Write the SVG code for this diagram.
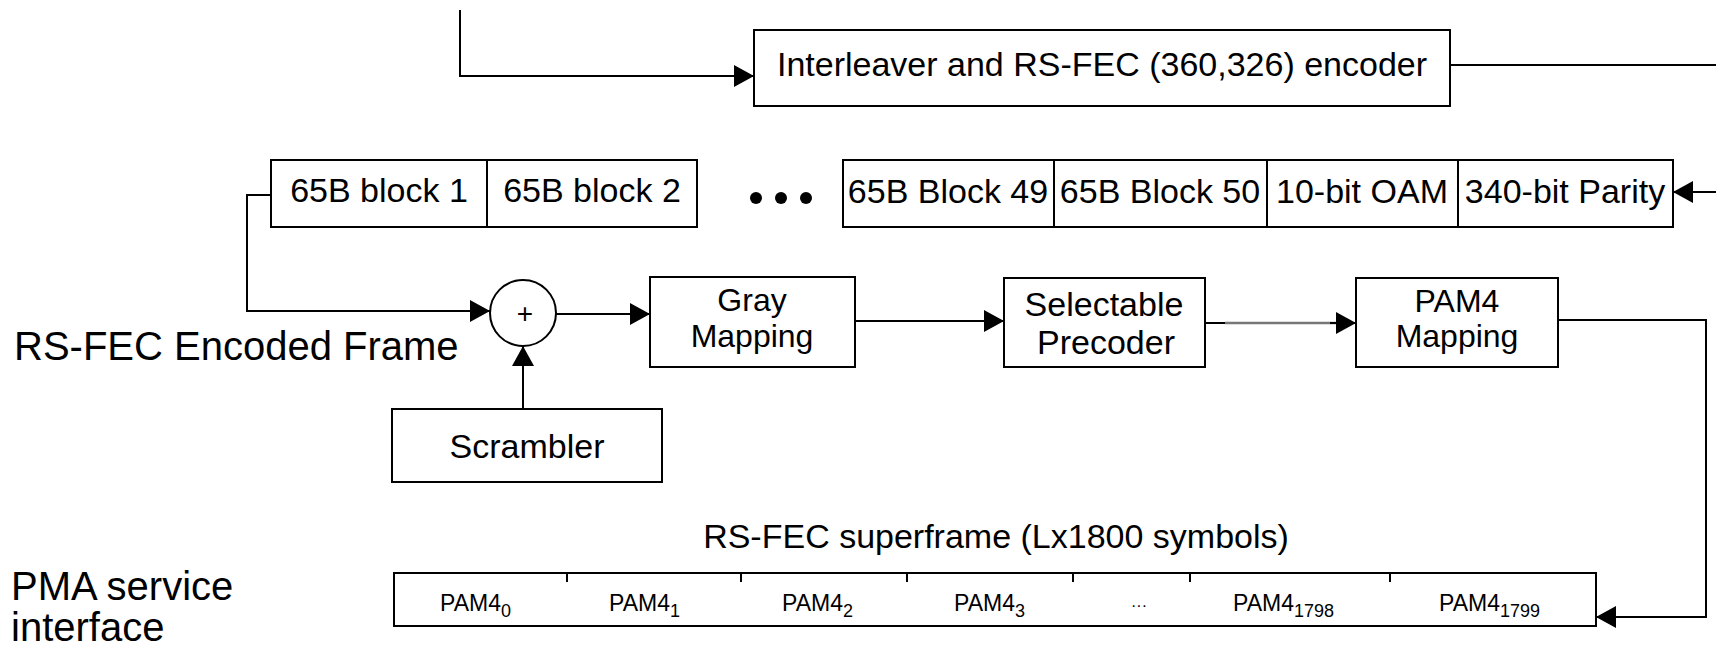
<svg xmlns="http://www.w3.org/2000/svg" width="1716" height="651" viewBox="0 0 1716 651">
<style>
text{font-family:"Liberation Sans",Arial,sans-serif;fill:#000}
.t{font-size:34px;text-anchor:middle}
.m{font-size:32px;text-anchor:middle}
.big{font-size:40px}
.p{font-size:23px}
.s{font-size:18px}
.box{fill:#fff;stroke:#000;stroke-width:2}
.ln{fill:none;stroke:#000;stroke-width:2}
</style>
<defs>
<marker id="ah" viewBox="0 0 20 22" markerWidth="20" markerHeight="22" refX="20" refY="11" orient="auto" markerUnits="userSpaceOnUse">
<path d="M0,0 L20,11 L0,22 z" fill="#000"/>
</marker>
</defs>

<g id="connectors">
<polyline class="ln" points="460,10 460,76 754,76" marker-end="url(#ah)"/>
<line class="ln" x1="1450" y1="65" x2="1716" y2="65"/>
<line class="ln" x1="1716" y1="192" x2="1673" y2="192" marker-end="url(#ah)"/>
<polyline class="ln" points="271,195 247,195 247,311 490,311" marker-end="url(#ah)"/>
<line class="ln" x1="523" y1="409" x2="523" y2="346" marker-end="url(#ah)"/>
<line class="ln" x1="556" y1="314" x2="650" y2="314" marker-end="url(#ah)"/>
<line class="ln" x1="855" y1="321" x2="1004" y2="321" marker-end="url(#ah)"/>
<line class="ln" x1="1205" y1="323" x2="1225" y2="323"/>
<line x1="1225" y1="323" x2="1340" y2="323" stroke="#777" stroke-width="2.5"/>
<line class="ln" x1="1330" y1="323" x2="1356" y2="323" marker-end="url(#ah)"/>
<polyline class="ln" points="1558,320 1706,320 1706,617 1596,617" marker-end="url(#ah)"/>
</g>

<g id="interleaver">
<rect class="box" x="754" y="30" width="696" height="76"/>
<text class="t" x="1102" y="76">Interleaver and RS-FEC (360,326) encoder</text>
</g>

<g id="frame-start">
<rect class="box" x="271" y="160" width="426" height="67"/>
<line class="ln" x1="487" y1="160" x2="487" y2="227"/>
<text class="t" x="379" y="202">65B block 1</text>
<text class="t" x="592" y="202">65B block 2</text>
</g>

<g id="dots">
<circle cx="756" cy="198" r="6"/>
<circle cx="781" cy="198" r="6"/>
<circle cx="806" cy="198" r="6"/>
</g>

<g id="frame-end">
<rect class="box" x="843" y="160" width="830" height="67"/>
<line class="ln" x1="1054" y1="160" x2="1054" y2="227"/>
<line class="ln" x1="1267" y1="160" x2="1267" y2="227"/>
<line class="ln" x1="1458" y1="160" x2="1458" y2="227"/>
<text class="t" x="948" y="203">65B Block 49</text>
<text class="t" x="1160" y="203">65B Block 50</text>
<text class="t" x="1362" y="203">10-bit OAM</text>
<text class="t" x="1565" y="203">340-bit Parity</text>
</g>

<g id="label-frame">
<text class="big" x="14" y="360">RS-FEC Encoded Frame</text>
</g>

<g id="adder">
<circle cx="523" cy="313" r="33" fill="#fff" stroke="#000" stroke-width="2"/>
<text x="525" y="323" style="font-size:28px;text-anchor:middle">+</text>
</g>

<g id="scrambler">
<rect class="box" x="392" y="409" width="270" height="73"/>
<text class="t" x="527" y="458">Scrambler</text>
</g>

<g id="gray">
<rect class="box" x="650" y="277" width="205" height="90"/>
<text class="m" x="752" y="311">Gray</text>
<text class="m" x="752" y="347">Mapping</text>
</g>

<g id="precoder">
<rect class="box" x="1004" y="278" width="201" height="89"/>
<text class="t" x="1104" y="316">Selectable</text>
<text class="t" x="1106" y="354">Precoder</text>
</g>

<g id="pam4map">
<rect class="box" x="1356" y="278" width="202" height="89"/>
<text class="m" x="1457" y="312">PAM4</text>
<text class="m" x="1457" y="347">Mapping</text>
</g>

<g id="superframe-title">
<text class="t" x="996" y="548">RS-FEC superframe (Lx1800 symbols)</text>
</g>

<g id="pma-label">
<text class="big" x="11" y="600">PMA service</text>
<text class="big" x="11" y="641">interface</text>
</g>

<g id="superframe">
<rect class="box" x="394" y="573" width="1202" height="53"/>
<g class="ln">
<line x1="567" y1="573" x2="567" y2="582"/>
<line x1="741" y1="573" x2="741" y2="582"/>
<line x1="907" y1="573" x2="907" y2="582"/>
<line x1="1073" y1="573" x2="1073" y2="582"/>
<line x1="1190" y1="573" x2="1190" y2="582"/>
<line x1="1390" y1="573" x2="1390" y2="582"/>
</g>
<text class="p" x="440" y="611">PAM4<tspan class="s" dy="6">0</tspan></text>
<text class="p" x="609" y="611">PAM4<tspan class="s" dy="6">1</tspan></text>
<text class="p" x="782" y="611">PAM4<tspan class="s" dy="6">2</tspan></text>
<text class="p" x="954" y="611">PAM4<tspan class="s" dy="6">3</tspan></text>
<text class="p" x="1131" y="611" style="font-size:16px">···</text>
<text class="p" x="1233" y="611">PAM4<tspan class="s" dy="6">1798</tspan></text>
<text class="p" x="1439" y="611">PAM4<tspan class="s" dy="6">1799</tspan></text>
</g>
</svg>
